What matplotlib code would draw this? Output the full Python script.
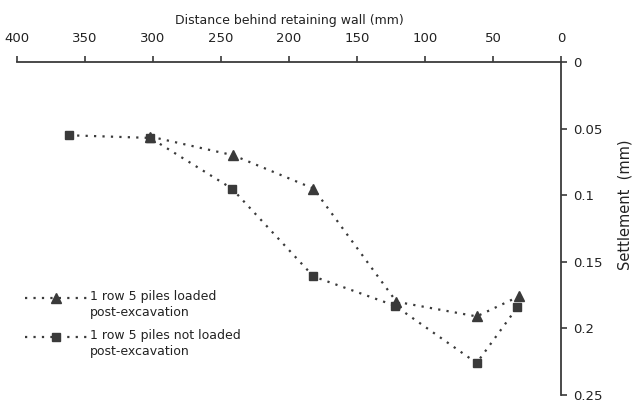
"""Settlement behind a retaining wall, two pile configurations."""

import matplotlib

matplotlib.use("Agg")
import matplotlib.pyplot as plt  # noqa: E402
import numpy as np  # noqa: E402
from matplotlib.legend_handler import HandlerLine2D  # noqa: E402
from matplotlib.ticker import FormatStrFormatter, FuncFormatter  # noqa: E402

_GRAY = "#3a3a3a"

# distance behind the wall (mm) and settlement (mm)
dist_loaded = [302, 241, 182, 121, 62, 31]
settle_loaded = [0.056, 0.070, 0.095, 0.180, 0.191, 0.176]

dist_not_loaded = [362, 302, 242, 182, 122, 62, 32]
settle_not_loaded = [0.055, 0.057, 0.095, 0.161, 0.183, 0.226, 0.184]

x_ticks = [400, 350, 300, 250, 200, 150, 100, 50, 0]
y_ticks = [0, 0.05, 0.1, 0.15, 0.2, 0.25]


class _TopLineHandler(HandlerLine2D):
    """Legend handle aligned with the first line of a two-line label."""

    def create_artists(self, legend, orig_handle, xdescent, ydescent,
                       width, height, fontsize, trans):
        artists = super().create_artists(legend, orig_handle, xdescent,
                                         ydescent, width, height, fontsize,
                                         trans)
        for a in artists:
            a.set_ydata(np.asarray(a.get_ydata()) + 0.55 * fontsize)
        return artists


fig = plt.figure(figsize=(6.34, 4.09), dpi=100)
ax = fig.add_axes((17 / 634, 1 - 395 / 409, 544 / 634, 333 / 409))

dotted = (0, (1, 2.8))
ax.plot(dist_loaded, settle_loaded, linestyle=dotted, lw=1.6, color=_GRAY,
        marker="^", ms=7.5, mfc=_GRAY, mec=_GRAY,
        label="1 row 5 piles loaded\npost-excavation", clip_on=False)
ax.plot(dist_not_loaded, settle_not_loaded, linestyle=dotted, lw=1.6,
        color=_GRAY, marker="s", ms=5.5, mfc=_GRAY, mec=_GRAY,
        label="1 row 5 piles not loaded\npost-excavation", clip_on=False)

ax.set_xlim(400, 0)
ax.set_ylim(0.25, 0)

# axes on top and right, like the original figure
ax.spines[["left", "bottom"]].set_visible(False)
for side in ("top", "right"):
    ax.spines[side].set_color(_GRAY)
    ax.spines[side].set_linewidth(1.3)
ax.xaxis.set_ticks_position("top")
ax.xaxis.set_label_position("top")
ax.yaxis.set_ticks_position("right")
ax.yaxis.set_label_position("right")
ax.set_xticks(x_ticks)
ax.set_yticks(y_ticks)
ax.yaxis.set_major_formatter(FuncFormatter(lambda v, _: f"{v:g}"))
ax.xaxis.set_major_formatter(FormatStrFormatter("%d"))
ax.tick_params(direction="out", length=4, width=1.2, color=_GRAY,
               labelsize=9.5, labelcolor="#222222")
ax.tick_params(axis="x", pad=8)
ax.tick_params(axis="y", pad=5)

ax.set_xlabel("Distance behind retaining wall (mm)", fontsize=9,
              color="#222222", labelpad=6)
ax.set_ylabel("Settlement  (mm)", fontsize=10.5, color="#222222",
              labelpad=10)
ax.yaxis.set_label_coords(1.0 + 57 / 544, 1 - (205 - 62) / 333)

leg = ax.legend(loc="upper left", bbox_to_anchor=(25 / 634, 1 - 290 / 409),
                bbox_transform=fig.transFigure, frameon=False, fontsize=9,
                handlelength=5.0, handletextpad=0.2, borderpad=0,
                borderaxespad=0, labelspacing=0.8, labelcolor="#222222",
                handler_map={plt.Line2D: _TopLineHandler()})
for txt in leg.get_texts():
    txt.set_linespacing(1.3)

fig.savefig("out.png", dpi=100)
plt.close(fig)
